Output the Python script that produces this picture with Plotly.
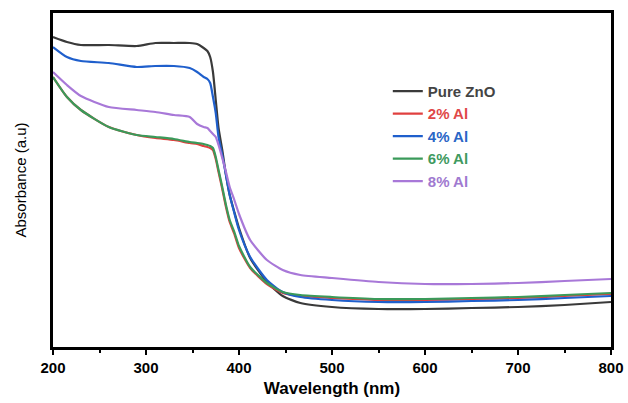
import plotly.graph_objects as go

wavelength = [200, 215, 230, 260, 290, 310, 330, 347, 355, 362, 366, 369, 372, 375, 378, 382, 386,
              390, 395, 400, 412, 430, 447, 466, 500, 550, 600, 650, 700, 750, 800]

pure_zno = [3.10, 3.05, 3.02, 3.02, 3.01, 3.04, 3.04, 3.04, 3.03, 2.99, 2.96, 2.90, 2.75, 2.47, 2.19,
            1.97, 1.72, 1.52, 1.35, 1.19, 0.89, 0.65, 0.51, 0.44, 0.40, 0.38, 0.38, 0.39, 0.40, 0.42, 0.45]
al_2 = [2.70, 2.50, 2.37, 2.20, 2.12, 2.09, 2.07, 2.04, 2.03, 2.01, 2.00, 1.99, 1.97, 1.88, 1.75,
        1.58, 1.40, 1.25, 1.13, 0.99, 0.79, 0.63, 0.54, 0.51, 0.49, 0.47, 0.47, 0.48, 0.49, 0.51, 0.53]
al_4 = [3.00, 2.90, 2.86, 2.84, 2.80, 2.81, 2.81, 2.79, 2.75, 2.70, 2.68, 2.64, 2.50, 2.34, 2.10,
        1.92, 1.72, 1.52, 1.34, 1.17, 0.90, 0.67, 0.55, 0.50, 0.47, 0.45, 0.45, 0.46, 0.47, 0.49, 0.51]
al_6 = [2.70, 2.50, 2.37, 2.20, 2.12, 2.10, 2.08, 2.05, 2.04, 2.03, 2.02, 2.01, 1.99, 1.90, 1.77,
        1.60, 1.42, 1.27, 1.15, 1.01, 0.80, 0.64, 0.55, 0.52, 0.50, 0.48, 0.48, 0.49, 0.50, 0.52, 0.54]
al_8 = [2.75, 2.62, 2.51, 2.40, 2.37, 2.35, 2.32, 2.30, 2.23, 2.20, 2.19, 2.16, 2.13, 2.10, 2.02,
        1.89, 1.75, 1.60, 1.47, 1.33, 1.07, 0.87, 0.77, 0.72, 0.69, 0.65, 0.63, 0.63, 0.64, 0.66, 0.68]

series_names = ["Pure ZnO", "2% Al", "4% Al", "6% Al", "8% Al"]
series_values = [pure_zno, al_2, al_4, al_6, al_8]
line_colors = ["#3a3a3a", "#e0403f", "#1f5fcc", "#3a9a5a", "#a878d8"]
text_colors = ["#444444", "#e04848", "#2a66c6", "#3f9a5f", "#a07ad0"]
x_ticks = [200, 300, 400, 500, 600, 700, 800]

fig = go.Figure()
for name, vals, lc, tc in zip(series_names, series_values, line_colors, text_colors):
    fig.add_trace(go.Scatter(
        x=wavelength, y=vals, mode="lines", line=dict(color=lc, width=2.2, shape="spline", smoothing=0.6),
        name=f"<span style='color:{tc}'><b>{name}</b></span>",
    ))

fig.update_layout(
    width=628, height=403,
    margin=dict(l=53, r=17, t=13, b=56),
    paper_bgcolor="white", plot_bgcolor="white",
    font=dict(family="Liberation Sans, Arial, sans-serif", color="black"),
    legend=dict(x=0.60, y=0.815, xanchor="left", yanchor="top",
                bgcolor="rgba(0,0,0,0)", font=dict(size=15), tracegroupgap=0),
    xaxis=dict(
        range=[200, 800], tickvals=x_ticks, ticktext=[f"<b>{v}</b>" for v in x_ticks],
        showline=True, linewidth=3, linecolor="black", mirror=True,
        ticks="outside", ticklen=5, tickwidth=2, tickcolor="black",
        minor=dict(dtick=50, ticks="outside", ticklen=3, tickwidth=2, tickcolor="black"),
        showgrid=False, zeroline=False, tickfont=dict(size=15), automargin=False,
        title=dict(text="<b>Wavelength (nm)</b>", font=dict(size=17), standoff=8),
    ),
    yaxis=dict(
        range=[0, 3.34], showticklabels=False, ticks="",
        showline=True, linewidth=3, linecolor="black", mirror=True,
        showgrid=False, zeroline=False, automargin=False,
        title=dict(text="Absorbance (a.u)", font=dict(size=15), standoff=20),
    ),
)

fig.write_html("out.html", config={"displayModeBar": False},
               post_script="document.body.style.margin='0';document.body.style.overflow='hidden';")
